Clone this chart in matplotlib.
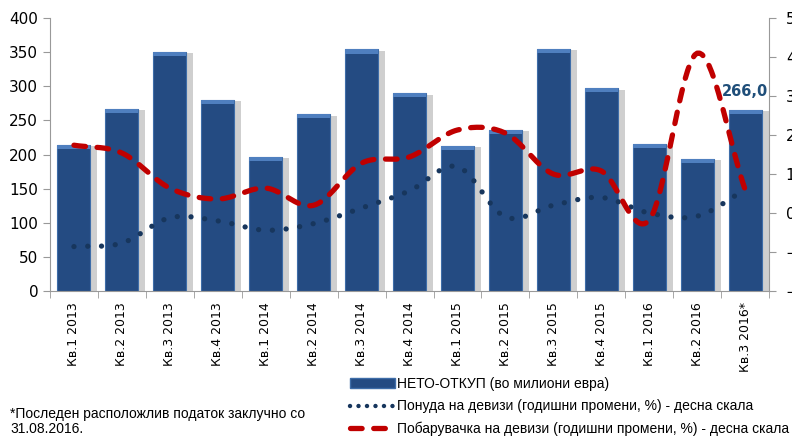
import matplotlib.pyplot as plt
import matplotlib.patheffects as pe
from matplotlib.lines import Line2D
from matplotlib.patches import Patch
import numpy as np

# податоци
kvartali = ["Кв.1 2013", "Кв.2 2013", "Кв.3 2013", "Кв.4 2013",
            "Кв.1 2014", "Кв.2 2014", "Кв.3 2014", "Кв.4 2014",
            "Кв.1 2015", "Кв.2 2015", "Кв.3 2015", "Кв.4 2015",
            "Кв.1 2016", "Кв.2 2016", "Кв.3 2016*"]
neto_otkup = [214, 267, 351, 280, 197, 259, 354, 290, 213, 236, 355, 297, 215, 194, 266]
ponuda = [-8.6, -7.7, -1.2, -2.0, -4.4, -2.7, 1.3, 5.7, 11.9, -1.0, 2.0, 4.0, 0.0, -0.8, 6.0]
pobaruvachka = [17.4, 15.4, 6.4, 3.6, 6.4, 2.0, 12.8, 14.4, 21.3, 20.5, 10.0, 10.8, -1.8, 41.0, 6.0]

sina = "#244B82"
temno = "#17365D"
crvena = "#C00000"


def mazno(y, n=20):
    # Catmull-Rom крива низ точките (како "smoothed line" во Excel)
    y = np.asarray(y, float)
    p = np.concatenate([[2 * y[0] - y[1]], y, [2 * y[-1] - y[-2]]])
    xs, ys = [], []
    for i in range(len(y) - 1):
        t = np.linspace(0, 1, n, endpoint=False)
        p0, p1, p2, p3 = p[i], p[i + 1], p[i + 2], p[i + 3]
        ys.append(0.5 * (2 * p1 + (-p0 + p2) * t + (2 * p0 - 5 * p1 + 4 * p2 - p3) * t ** 2
                         + (-p0 + 3 * p1 - 3 * p2 + p3) * t ** 3))
        xs.append(i + t)
    xs.append([len(y) - 1])
    ys.append([y[-1]])
    return np.concatenate(xs), np.concatenate(ys)


fig = plt.figure(figsize=(7.92, 4.41), dpi=100)
ax = fig.add_axes([0.0631, 0.34, 0.908, 0.619])
x = np.arange(len(kvartali))

bars = ax.bar(x, neto_otkup, width=0.69, color=sina, edgecolor="#3E6DA8", linewidth=0.8, zorder=2)
for b in bars:
    b.set_path_effects([pe.SimplePatchShadow(offset=(5, -1), shadow_rgbFace="#888888", alpha=0.4),
                        pe.Normal()])
# светол горен раб на столбовите
ax.bar(x, [6] * len(x), bottom=np.array(neto_otkup) - 6, width=0.69, color="#4F7FBF",
       linewidth=0, zorder=3)

ax.set_xlim(-0.5, len(x) - 0.5)
ax.set_ylim(0, 400)
ax.set_yticks(range(0, 401, 50))
ax.set_xticks(x)
ax.set_xticklabels(kvartali, rotation=90, fontsize=9)
ax.set_xticks(np.arange(-0.5, len(x), 1), minor=True)
ax.tick_params(axis="x", which="major", length=0, pad=8)
ax.tick_params(axis="x", which="minor", length=5, color="#999999")
ax.tick_params(axis="y", labelsize=11, length=5, color="#999999")
for s in ["top", "right"]:
    ax.spines[s].set_visible(False)
for s in ["left", "bottom"]:
    ax.spines[s].set_color("#999999")

ax.text(x[-1], neto_otkup[-1] + 15, "266,0", ha="center", va="bottom",
        fontsize=10.5, fontweight="bold", color="#1F4E79")

ax2 = ax.twinx()
ax2.set_ylim(-20, 50)
ax2.set_yticks(range(-20, 51, 10))
ax2.tick_params(axis="y", labelsize=11, length=5, color="#999999", pad=7)
for s in ["top", "left", "bottom"]:
    ax2.spines[s].set_visible(False)
ax2.spines["right"].set_color("#999999")

xs, ys = mazno(ponuda)
ax2.plot(xs, ys, color=temno, lw=3.8, linestyle=(0, (0.01, 2.6)),
         dash_capstyle="round", zorder=4)
xs, ys = mazno(pobaruvachka)
ax2.plot(xs, ys, color=crvena, lw=3.8, linestyle=(0, (2.2, 2.2)),
         dash_capstyle="round", zorder=5)

rakovi = [Patch(facecolor=sina, edgecolor="#3E6DA8"),
          Line2D([], [], color=temno, lw=3.2, linestyle=(0, (0.01, 1.9)), dash_capstyle="round"),
          Line2D([], [], color=crvena, lw=3.8, linestyle=(0, (2.2, 2.2)), dash_capstyle="round")]
imenja = ["НЕТО-ОТКУП (во милиони евра)",
          "Понуда на девизи (годишни промени, %) - десна скала",
          "Побарувачка на девизи (годишни промени, %) - десна скала"]
fig.legend(rakovi, imenja, loc="upper left", bbox_to_anchor=(0.442, 0.145), frameon=False,
           handlelength=3.2, handletextpad=0.2, labelspacing=0.6,
           borderpad=0, borderaxespad=0,
           prop={"family": ["Liberation Sans", "DejaVu Sans"], "size": 10})

fig.text(0.013, 0.045, "*Последен расположлив податок заклучно со\n31.08.2016.",
         fontsize=10, va="center", ha="left", linespacing=1.1,
         family=["Liberation Sans", "DejaVu Sans"])

fig.savefig("out.png", dpi=100)
